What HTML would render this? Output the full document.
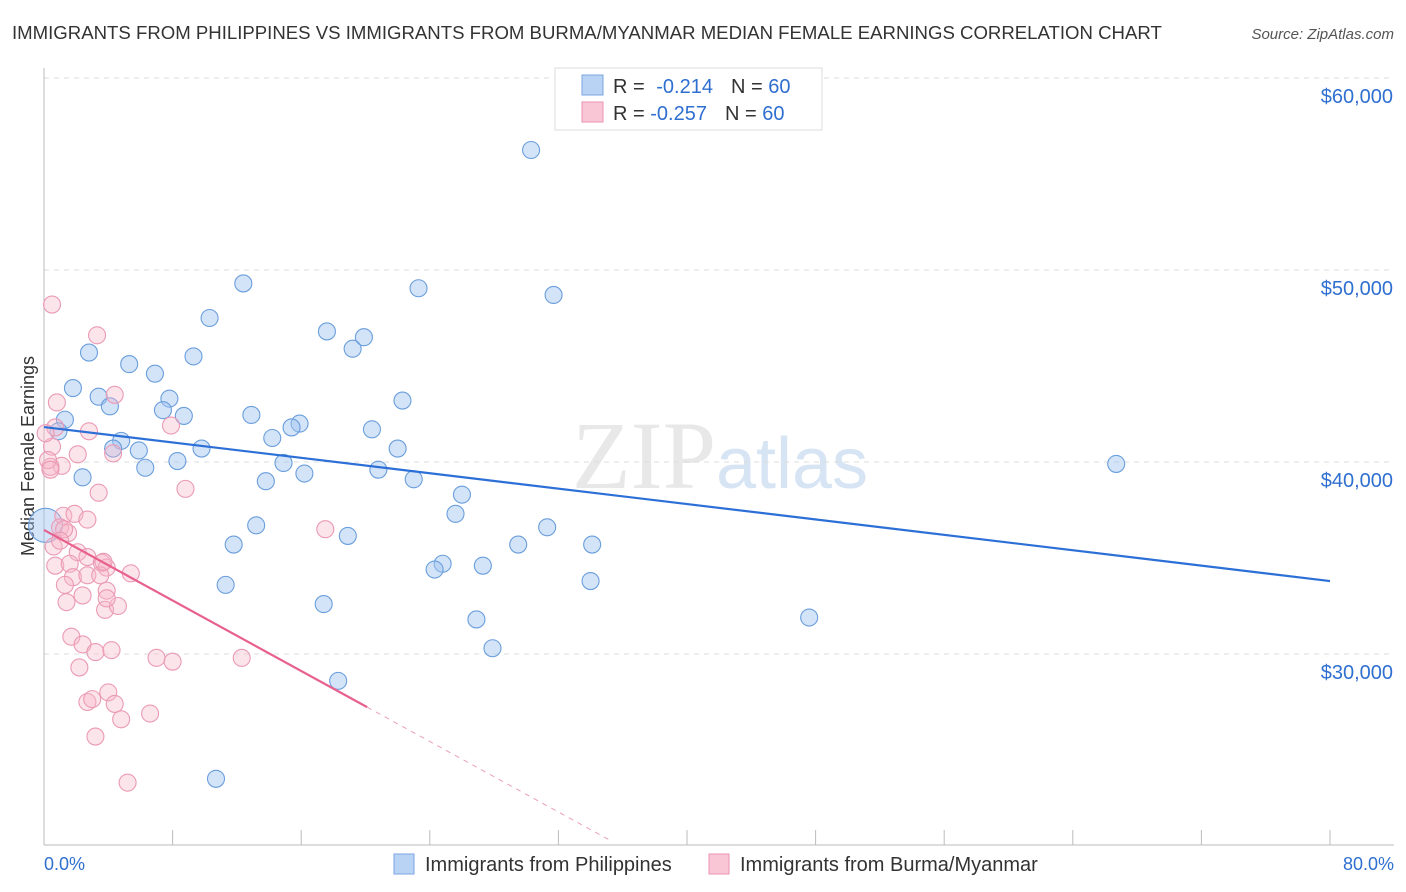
<!DOCTYPE html>
<html><head><meta charset="utf-8"><style>
body{margin:0;background:#fff;font-family:"Liberation Sans",sans-serif;}
svg{display:block}
</style></head><body>
<svg id="chart" width="1406" height="892">
<text x="12" y="39" font-size="18.6" fill="#333">IMMIGRANTS FROM PHILIPPINES VS IMMIGRANTS FROM BURMA/MYANMAR MEDIAN FEMALE EARNINGS CORRELATION CHART</text>
<text x="1394" y="39" font-size="15" fill="#555" font-style="italic" text-anchor="end">Source: ZipAtlas.com</text>
<text x="720" y="488" font-size="96" fill="#e8e8e8" text-anchor="middle" font-family="Liberation Serif,serif">ZIP<tspan fill="#d6e4f4" font-family="Liberation Sans,sans-serif" font-size="72">atlas</tspan></text>
<text transform="translate(34,456) rotate(-90)" font-size="18" fill="#333" text-anchor="middle">Median Female Earnings</text>
<g id="grid"></g><g id="pts"></g><g id="lines"></g>
<g>
<rect x="555" y="68" width="267" height="62" fill="#fff" stroke="#ddd"/>
<rect x="582" y="75" width="21" height="20" fill="#b9d3f5" stroke="#7aa6e0"/>
<rect x="582" y="102" width="21" height="20" fill="#f9c6d6" stroke="#ea93b0"/>
<text x="613" y="93" font-size="20" fill="#333">R = <tspan fill="#2f6fd0" dx="6">-0.214</tspan><tspan dx="18">N = </tspan><tspan fill="#2f6fd0">60</tspan></text>
<text x="613" y="120" font-size="20" fill="#333">R = <tspan fill="#2f6fd0">-0.257</tspan><tspan dx="18">N = </tspan><tspan fill="#2f6fd0">60</tspan></text>
</g>
<g>
<rect x="394" y="854" width="20" height="20" fill="#b9d3f5" stroke="#7aa6e0"/>
<text x="425" y="871" font-size="20" fill="#333">Immigrants from Philippines</text>
<rect x="709" y="854" width="20" height="20" fill="#f9c6d6" stroke="#ea93b0"/>
<text x="740" y="871" font-size="20" fill="#333">Immigrants from Burma/Myanmar</text>
</g>
<text x="44" y="870" font-size="18" fill="#2f6fd0">0.0%</text>
<text x="1394" y="870" font-size="18" fill="#2f6fd0" text-anchor="end">80.0%</text>
</svg>
<script>
const yTicks=[60000,50000,40000,30000];
const yTickLabels=["$60,000","$50,000","$40,000","$30,000"];
const xTicks=[0,8,16,24,32,40,48,56,64,72,80];
const blueX=[30.3,12.4,23.3,31.7,10.3,17.6,19.9,19.2,2.8,9.3,5.3,6.9,1.8,3.4,7.8,22.3,4.1,7.4,8.7,12.9,1.3,15.9,15.4,20.4,0.9,14.2,4.8,4.3,5.9,9.8,22.0,8.3,14.9,6.3,20.8,66.7,16.2,2.4,13.8,23.0,26.0,25.6,31.3,13.2,0.1,18.9,11.8,29.5,34.1,24.8,24.3,27.3,11.3,34.0,17.4,26.9,47.6,27.9,18.3,10.7];
const blueY=[56.25,49.3,49.05,48.7,47.5,46.8,46.5,45.9,45.7,45.5,45.1,44.6,43.85,43.4,43.3,43.2,42.9,42.7,42.4,42.45,42.2,42.0,41.8,41.7,41.6,41.25,41.1,40.7,40.6,40.7,40.7,40.05,39.95,39.7,39.6,39.9,39.4,39.2,39.0,39.1,38.3,37.3,36.6,36.7,36.7,36.15,35.7,35.7,35.7,34.7,34.4,34.6,33.6,33.8,32.6,31.8,31.9,30.3,28.6,23.5];
const pinkX=[0.5,3.3,0.8,4.4,0.7,2.8,7.9,0.5,2.1,1.1,0.4,0.25,4.3,3.4,8.8,1.2,1.9,2.7,1.0,1.5,0.6,17.5,0.7,2.1,1.6,2.7,3.6,3.9,5.4,1.8,2.7,3.5,1.3,2.4,3.9,1.4,3.8,4.6,3.9,1.7,2.4,3.2,4.2,2.2,7.0,8.0,12.3,4.0,2.7,3.0,4.4,6.6,4.8,3.2,5.2,0.1,0.4,3.7,1.25,1.0];
const pinkY=[48.2,46.6,43.1,43.5,41.8,41.6,41.9,40.8,40.4,39.8,39.75,40.1,40.45,38.4,38.6,37.2,37.3,37.0,36.6,36.3,35.6,36.5,34.6,35.3,34.7,35.05,34.75,34.5,34.2,34.0,34.1,34.1,33.6,33.05,33.3,32.7,32.3,32.5,32.9,30.9,30.5,30.1,30.2,29.3,29.8,29.6,29.8,28.0,27.5,27.65,27.4,26.9,26.6,25.7,23.3,41.5,39.6,34.8,36.5,35.9];
const blueTrend=[41.82,33.8];
const pinkTrend=[36.46,-0.459];
const pinkSolidEnd=20.1, pinkDashEnd=35.2;
const NS="http://www.w3.org/2000/svg";
const xs=v=>44+v/80*1286;
const ys=v=>78+(60-v)*19.2;
function mk(tag,attrs,parent){const e=document.createElementNS(NS,tag);for(const k in attrs)e.setAttribute(k,attrs[k]);parent.appendChild(e);return e;}
const grid=document.getElementById('grid');
yTicks.forEach((t,i)=>{
  const g=mk('line',{x1:44,x2:1394,y1:ys(t/1000),y2:ys(t/1000),stroke:'#ddd','stroke-dasharray':'5,5'},grid);
  
  
  const l=mk('text',{x:1393,y:ys(t/1000)+25,'font-size':20,fill:'#2f6fd0','text-anchor':'end'},grid);
  l.textContent=yTickLabels[i];
  
  
});
const ax=mk('line',{x1:44,x2:44,y1:68,y2:845,stroke:'#bbb'},grid);


const bx=mk('line',{x1:44,x2:1394,y1:845,y2:845,stroke:'#bbb'},grid);


xTicks.forEach(t=>{
  const k=mk('line',{x1:xs(t),x2:xs(t),y1:830,y2:845,stroke:'#bbb'},grid);
  
  
});
const pts=document.getElementById('pts');
blueX.forEach((x,i)=>{
  const c=mk('circle',{cx:xs(x),cy:ys(blueY[i]),r:(i==44?17:8.5),fill:'rgba(160,196,240,0.45)',stroke:'#6a9edc','stroke-width':1.1},pts);
  
  
});
pinkX.forEach((x,i)=>{
  const c=mk('circle',{cx:xs(x),cy:ys(pinkY[i]),r:8.5,fill:'rgba(247,185,203,0.38)',stroke:'#eb9ab5','stroke-width':1.1},pts);
  
  
});
const lines=document.getElementById('lines');
const bl=mk('line',{x1:xs(0),y1:ys(blueTrend[0]),x2:xs(80),y2:ys(blueTrend[1]),stroke:'#2c6fd6','stroke-width':2.2},lines);


const pv=x=>pinkTrend[0]+pinkTrend[1]*x;
const pl=mk('line',{x1:xs(0),y1:ys(pv(0)),x2:xs(pinkSolidEnd),y2:ys(pv(pinkSolidEnd)),stroke:'#e8608e','stroke-width':2.2},lines);


const pd=mk('line',{x1:xs(pinkSolidEnd),y1:ys(pv(pinkSolidEnd)),x2:xs(pinkDashEnd),y2:ys(pv(pinkDashEnd)),stroke:'#eaa0b8','stroke-width':1,'stroke-dasharray':'5,5'},lines);


</script>
</body></html>
